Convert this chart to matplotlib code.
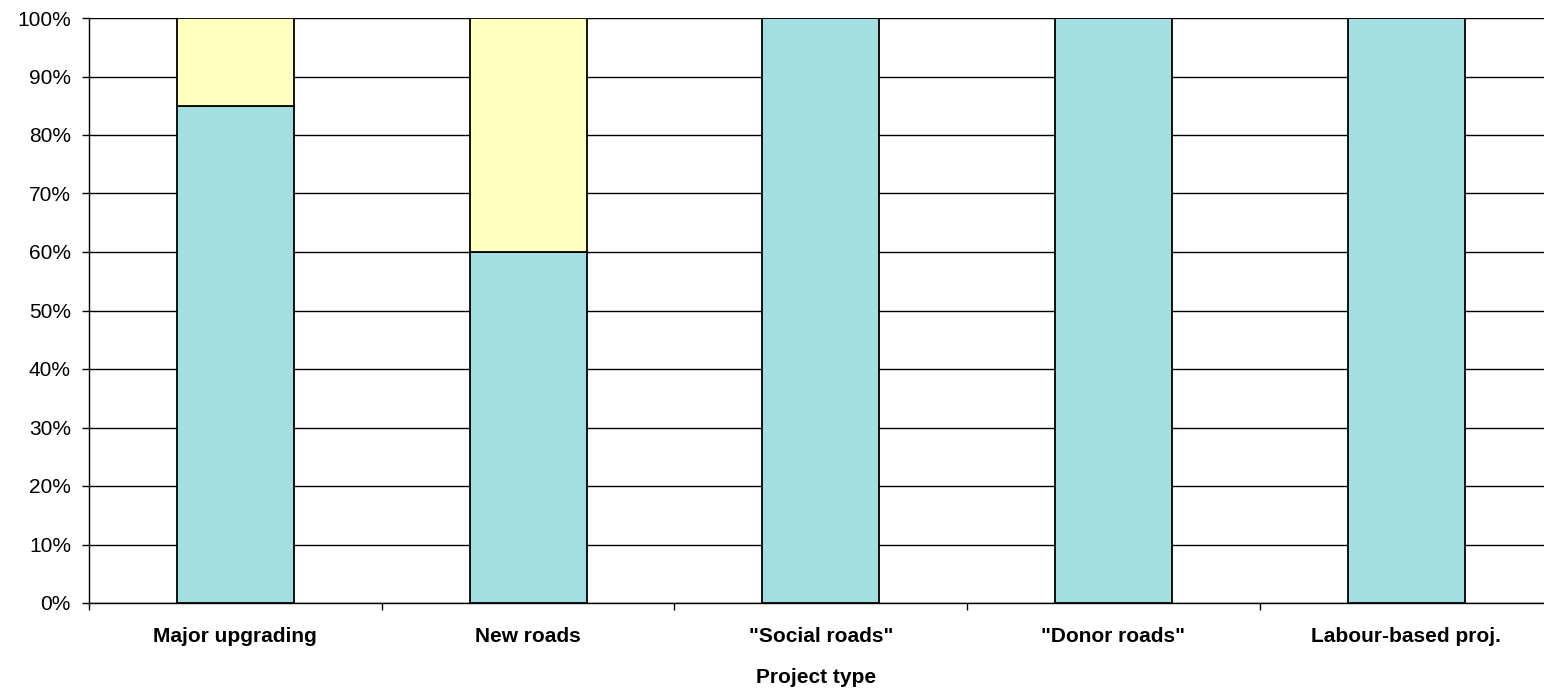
import matplotlib
matplotlib.use("Agg")
import matplotlib.pyplot as plt
from matplotlib.ticker import MultipleLocator, FuncFormatter

categories = ["Major upgrading", "New roads", "\"Social roads\"", "\"Donor roads\"", "Labour-based proj."]
share_a = [85, 60, 100, 100, 100]
share_b = [15, 40, 0, 0, 0]

plt.rcParams["font.family"] = ["Liberation Sans", "DejaVu Sans"]

fig = plt.figure(figsize=(15.44, 6.93), dpi=100)
ax = fig.add_axes([89 / 1544, 1 - 603 / 693, 1 - 89 / 1544, (603 - 18) / 693])

x = list(range(len(categories)))
ax.bar(x, share_a, width=0.4, color="#A3DFE0", edgecolor="black", linewidth=1.3, zorder=3)
ax.bar(x, share_b, width=0.4, bottom=share_a, color="#FFFFC0", edgecolor="black", linewidth=1.3, zorder=3)

ax.set_xticks(x)
ax.set_xticklabels(categories, fontweight="bold", fontsize=15)
ax.set_xticks([i - 0.5 for i in range(len(categories) + 1)], minor=True)

ax.set_ylim(0, 100)
ax.set_xlim(-0.5, -0.5 + (1544 - 89) / 292.7)
ax.yaxis.set_major_locator(MultipleLocator(10))
ax.yaxis.set_major_formatter(FuncFormatter(lambda v, p: f"{v:.0f}%"))
ax.grid(axis="y", color="black", linewidth=1)
ax.set_axisbelow(True)

for s in ["top", "right"]:
    ax.spines[s].set_visible(False)
ax.spines["left"].set_linewidth(1)
ax.spines["bottom"].set_linewidth(1)

ax.tick_params(axis="x", length=0, pad=17)
ax.tick_params(axis="x", which="minor", length=5, direction="out", width=1)
ax.tick_params(axis="y", length=5, direction="out", width=1, labelsize=15, pad=8)

ax.set_xlabel("Project type", fontweight="bold", fontsize=15, labelpad=16)

fig.savefig("out.png", dpi=100)
